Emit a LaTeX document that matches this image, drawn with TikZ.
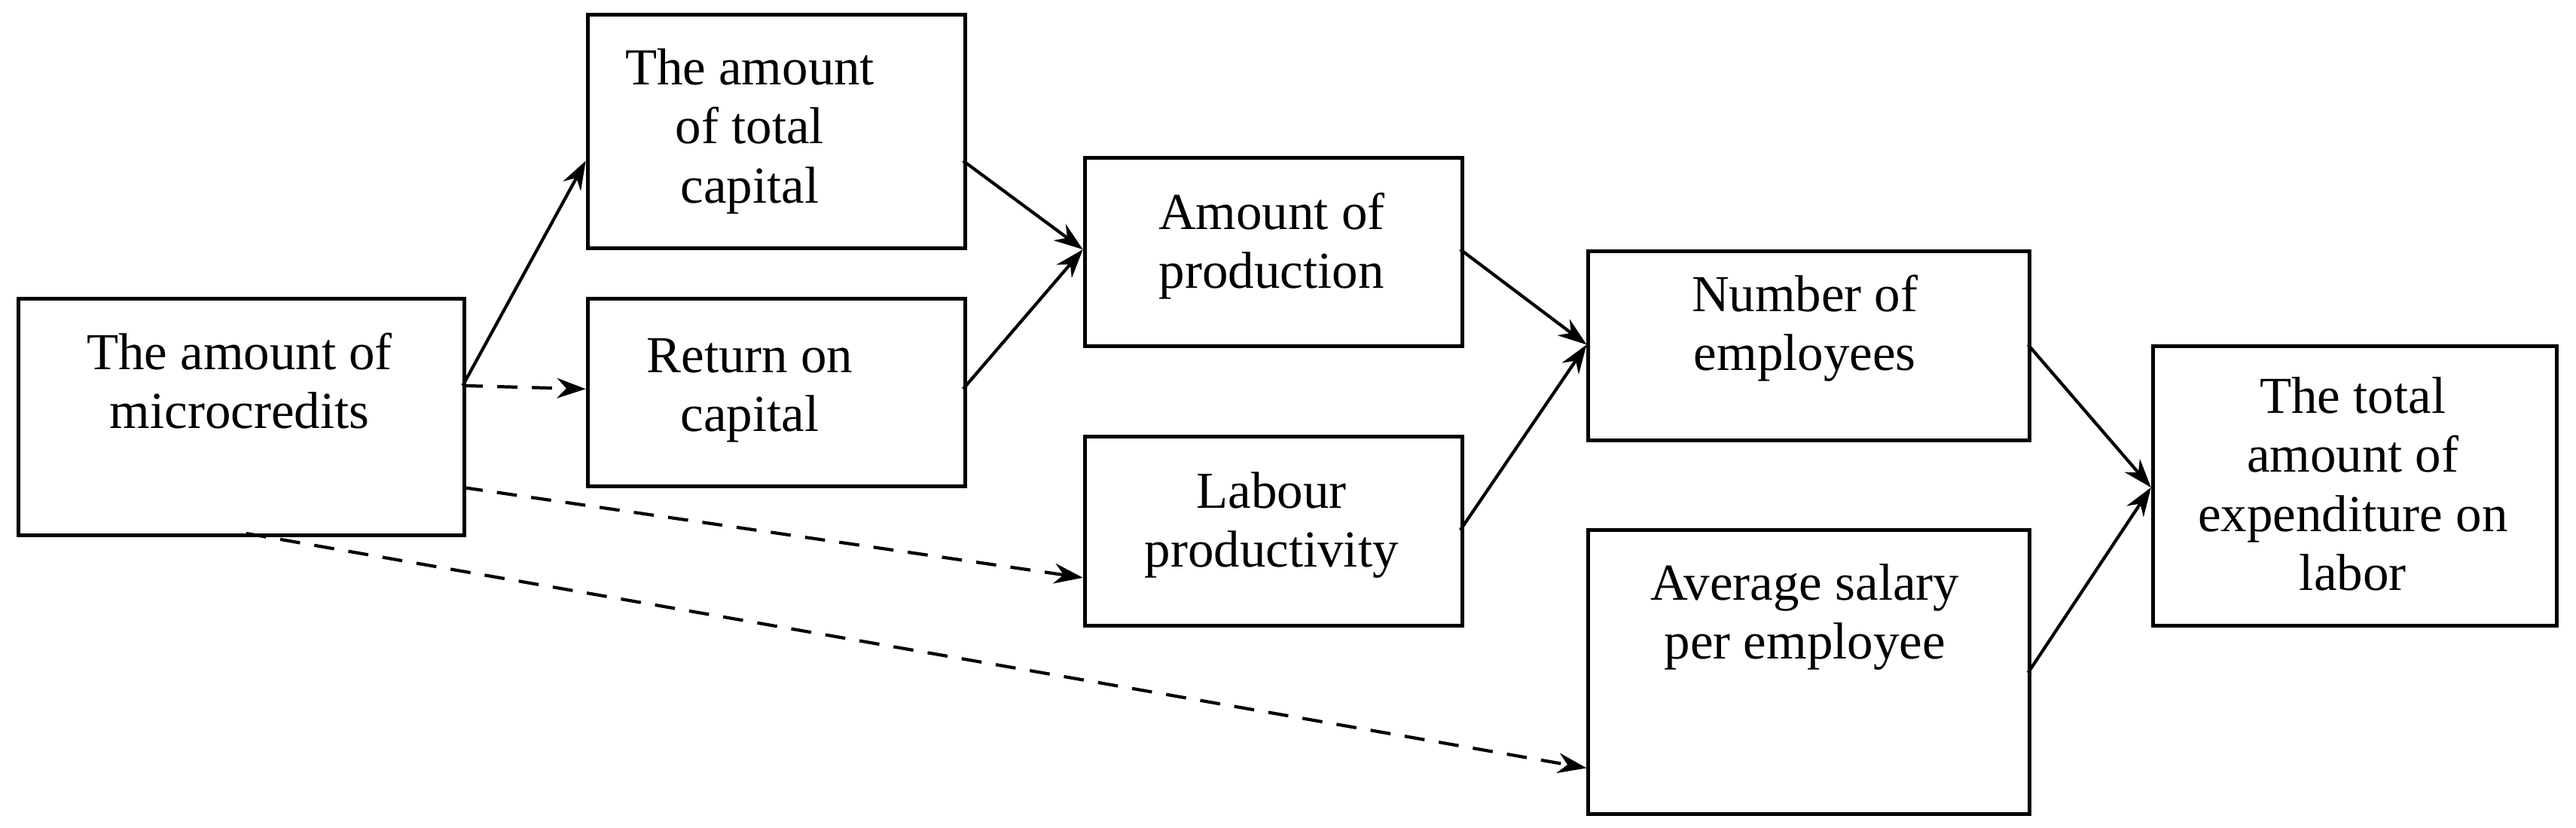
\documentclass[tikz,border=0pt]{standalone}
\usepackage{fontspec}
\setmainfont{Liberation Serif}
\usetikzlibrary{arrows.meta}
\begin{document}
\begin{tikzpicture}[x=0.02cm,y=-0.02cm,
  bx/.style={draw,line width=1.3pt,inner sep=0,anchor=north west},
  tx/.style={align=center,font=\fontsize{18}{20.5}\selectfont,inner sep=0},
  ar/.style={-{Stealth[length=10pt,width=7pt]},line width=1.1pt},
  da/.style={ar,dash pattern=on 7pt off 5pt}]
\useasboundingbox (0,0) rectangle (1570,504.5);
\node[bx,minimum width=272*0.02cm,minimum height=144*0.02cm] (A) at (10,181) {};
\node[bx,minimum width=230*0.02cm,minimum height=142*0.02cm] (B) at (357,8) {};
\node[bx,minimum width=230*0.02cm,minimum height=114*0.02cm] (C) at (357,181) {};
\node[bx,minimum width=230*0.02cm,minimum height=115*0.02cm] (D) at (660,95) {};
\node[bx,minimum width=230*0.02cm,minimum height=115*0.02cm] (E) at (660,265) {};
\node[bx,minimum width=269*0.02cm,minimum height=115*0.02cm] (F) at (967,152) {};
\node[bx,minimum width=269*0.02cm,minimum height=173*0.02cm] (G) at (967,322) {};
\node[bx,minimum width=246*0.02cm,minimum height=170*0.02cm] (H) at (1311,210) {};
\node[tx] (tA) at (146,232) {The amount of\\microcredits};
\node[tx] (tB) at (457,80) {The amount\\of total\\capital};
\node[tx] (tC) at (457,238) {Return on\\capital};
\node[tx] (tD) at (775,150) {Amount of\\production};
\node[tx] (tE) at (775,320) {Labour\\productivity};
\node[tx] (tF) at (1100,200) {Number of\\employees};
\node[tx] (tG) at (1100,376) {Average salary\\per employee};
\node[tx] (tH) at (1434,295) {The total\\amount of\\expenditure on\\labor};
\coordinate (a1) at (282,235); \coordinate (b1) at (357,98);
\coordinate (c1) at (357,237); \coordinate (a3) at (282,297);
\coordinate (e1) at (660,352); \coordinate (a4) at (150,325);
\coordinate (g1) at (967,468);
\coordinate (b2) at (587,98); \coordinate (c2) at (587,237); \coordinate (d1) at (660,152);
\coordinate (d2) at (890,152); \coordinate (e2) at (890,323); \coordinate (f1) at (967,210);
\coordinate (f2) at (1236,210); \coordinate (g2) at (1236,410); \coordinate (h1) at (1311,297);
\draw[ar] (a1) -- (b1);
\draw[da] (a1) -- (c1);
\draw[da] (a3) -- (e1);
\draw[da] (a4) -- (g1);
\draw[ar] (b2) -- (d1); \draw[ar] (c2) -- (d1);
\draw[ar] (d2) -- (f1); \draw[ar] (e2) -- (f1);
\draw[ar] (f2) -- (h1); \draw[ar] (g2) -- (h1);
\end{tikzpicture}
\end{document}
